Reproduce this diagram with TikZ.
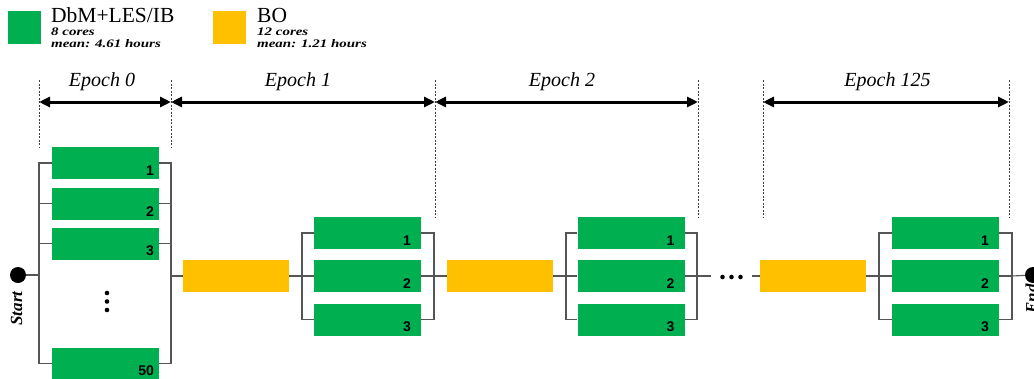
\documentclass[tikz,border=0pt]{standalone}
\usepackage{fontspec}
\setmainfont{Liberation Serif}
\newfontfamily\numfont{Liberation Sans}
\usetikzlibrary{arrows.meta}
\definecolor{grn}{RGB}{0,176,80}
\definecolor{org}{RGB}{255,192,0}
\definecolor{wirec}{RGB}{85,85,85}
\begin{document}
\begin{tikzpicture}[x=1pt,y=-1pt,
  gbox/.style={fill=grn, minimum width=107pt, minimum height=32pt, inner sep=0pt},
  obox/.style={fill=org, minimum width=106pt, minimum height=32pt, inner sep=0pt},
  boxnum/.style n args={2}{label={[anchor=south east, inner sep=0pt, xshift=-#2pt, yshift=3.5pt, font=\numfont\bfseries\fontsize{14}{14}\selectfont]south east:#1}},
  wire/.style={draw=wirec, line width=1.1pt},
  guide/.style={draw=black!75, line width=0.6pt, dash pattern=on 2pt off 1.5pt},
  epocharrow/.style={line width=3pt, {Stealth[length=11pt,width=10pt,inset=0pt]}-{Stealth[length=11pt,width=10pt,inset=0pt]}},
  epoch/.style={anchor=base, inner sep=0pt, font=\fontsize{20}{20}\selectfont\itshape},
  bigdot/.style={circle, fill=black, minimum size=16pt, inner sep=0pt},
  smalldot/.style={circle, fill=black, minimum size=4.6pt, inner sep=0pt},
  ends/.style={rotate=90, inner sep=0pt, font=\fontsize{17}{17}\selectfont\bfseries\itshape},
  legsq/.style={minimum size=33pt, inner sep=0pt},
  legtitle/.style={anchor=base west, inner sep=0pt, font=\fontsize{21.5}{22}\selectfont},
  legsub/.style={anchor=base west, inner sep=0pt, font=\fontsize{11.5}{11}\selectfont\bfseries\itshape},
]
\useasboundingbox (0,0) rectangle (1034,378);
\clip (0,0) rectangle (1034,378);

% legend
\node[legsq, fill=grn] (lg) at (24.5,27.5) {};
\node[legtitle] (lgt) at (51,22) {DbM+LES/IB};
\node[legsub] (lgc) at (51,35.5) {\scalebox{1.3}[1]{8 cores}};
\node[legsub] (lgm) at (51,47.3) {\scalebox{1.3}[1]{mean: 4.61 hours}};
\node[legsq, fill=org] (lo) at (229.5,27.5) {};
\node[legtitle] (lot) at (257,22) {BO};
\node[legsub] (loc) at (257,35.5) {\scalebox{1.3}[1]{12 cores}};
\node[legsub] (lom) at (257,47.3) {\scalebox{1.3}[1]{mean: 1.21 hours}};

% epoch guides
\coordinate (g0t) at (39,80);   \coordinate (g0b) at (39,148);   \coordinate (g0a) at (39,102);
\coordinate (g1t) at (171,80);  \coordinate (g1b) at (171,148);  \coordinate (g1a) at (171,102);
\coordinate (g2t) at (435,80);  \coordinate (g2b) at (435,218);  \coordinate (g2a) at (435,102);
\coordinate (g3t) at (698,80);  \coordinate (g3b) at (698,218);  \coordinate (g3a) at (698,102);
\coordinate (g4t) at (763,80);  \coordinate (g4b) at (763,218);  \coordinate (g4a) at (763,102);
\coordinate (g5t) at (1009,80); \coordinate (g5b) at (1009,218); \coordinate (g5a) at (1009,102);
\draw[guide] (g0t) -- (g0b);
\draw[guide] (g1t) -- (g1b);
\draw[guide] (g2t) -- (g2b);
\draw[guide] (g3t) -- (g3b);
\draw[guide] (g4t) -- (g4b);
\draw[guide] (g5t) -- (g5b);
\draw[epocharrow] (g0a) -- (g1a);
\draw[epocharrow] (g1a) -- (g2a);
\draw[epocharrow] (g2a) -- (g3a);
\draw[epocharrow] (g4a) -- (g5a);
\node[epoch] (ep0) at (102,86) {Epoch 0};
\node[epoch] (ep1) at (298,86) {Epoch 1};
\node[epoch] (ep2) at (562,86) {Epoch 2};
\node[epoch] (ep3) at (887.5,86) {Epoch 125};

% start
\node[bigdot] (start) at (18,275) {};
\node[ends] (startl) at (16.5,308.5) {Start};

% epoch 0 group
\node[gbox, boxnum={1}{5}] (e1) at (105.5,163) {};
\node[gbox, boxnum={2}{5}] (e2) at (105.5,203.5) {};
\node[gbox, boxnum={3}{5}] (e3) at (105.5,243.5) {};
\node[gbox, boxnum={50}{5}] (e50) at (105.5,363.5) {};
\node[smalldot] (v1) at (107,293) {};
\node[smalldot] (v2) at (107,301.5) {};
\node[smalldot] (v3) at (107,310) {};
\coordinate (e0L) at (39,275);
\coordinate (e0R) at (171,276);
\draw[wire] (e1.west) -- (e1.west -| e0L) -- (e50.west -| e0L) -- (e50.west);
\draw[wire] (e2.west) -- (e2.west -| e0L);
\draw[wire] (e3.west) -- (e3.west -| e0L);
\draw[wire] (e1.east) -- (e1.east -| e0R) -- (e50.east -| e0R) -- (e50.east);
\draw[wire] (e2.east) -- (e2.east -| e0R);
\draw[wire] (e3.east) -- (e3.east -| e0R);
\draw[wire] (start) -- (e0L);

% BO boxes
\node[obox] (o1) at (236,276) {};
\node[obox] (o2) at (500,276) {};
\node[obox] (o3) at (813,276) {};

% epoch groups with three runs
\foreach \g/\cx/\lx/\rx in {a/367.5/302/434, b/631/566/697, c/945.5/879/1012} {
  \node[gbox, boxnum={1}{10}] (\g1) at (\cx,233) {};
  \node[gbox, boxnum={2}{10}] (\g2) at (\cx,276) {};
  \node[gbox, boxnum={3}{10}] (\g3) at (\cx,319.5) {};
  \coordinate (\g L) at (\lx,276);
  \coordinate (\g R) at (\rx,276);
  \draw[wire] (\g1.west) -- (\g1.west -| \g L) -- (\g3.west -| \g L) -- (\g3.west);
  \draw[wire] (\g2.west) -- (\g L);
  \draw[wire] (\g1.east) -- (\g1.east -| \g R) -- (\g3.east -| \g R) -- (\g3.east);
  \draw[wire] (\g2.east) -- (\g R);
}

% ellipsis
\coordinate (dl) at (711,276);
\coordinate (dr) at (752,276);
\node[smalldot] (h1) at (722.5,277) {};
\node[smalldot] (h2) at (731.5,277) {};
\node[smalldot] (h3) at (740.5,277) {};

% end
\node[bigdot] (endd) at (1033,275) {};
\node[ends] (endl) at (1031.5,299) {End};

% chain
\draw[wire] (e0R) -- (o1.west);
\draw[wire] (o1.east) -- (aL);
\draw[wire] (aR) -- (o2.west);
\draw[wire] (o2.east) -- (bL);
\draw[wire] (bR) -- (dl);
\draw[wire] (dr) -- (o3.west);
\draw[wire] (o3.east) -- (cL);
\draw[wire] (cR) -- (endd);
\end{tikzpicture}
\end{document}
